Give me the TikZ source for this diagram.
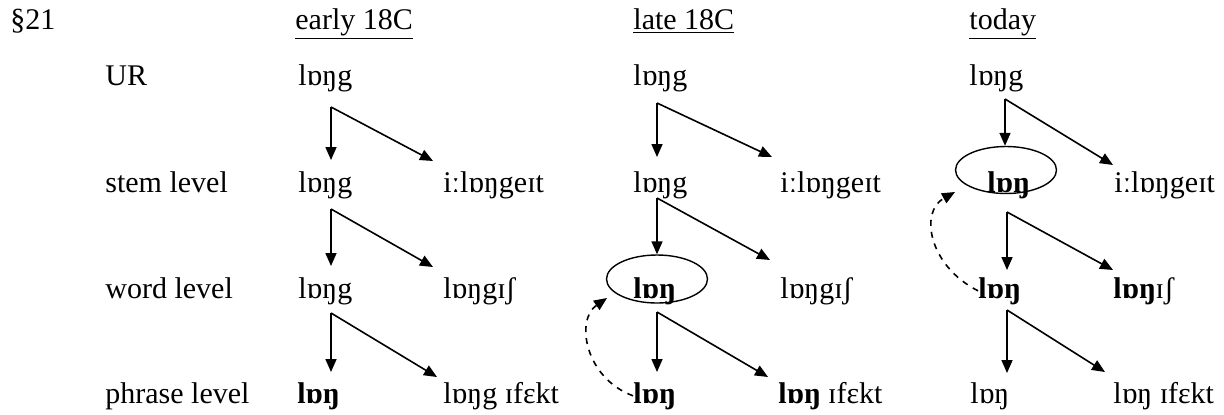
\documentclass[tikz,border=0pt]{standalone}
\usepackage{fontspec}
\setmainfont{Liberation Serif}
\usetikzlibrary{arrows.meta,shapes.geometric}

\begin{document}
\begin{tikzpicture}[x=0.5pt,y=-0.5pt,
  every node/.style={font=\fontsize{15pt}{18pt}\selectfont},
  txt/.style={anchor=base west,inner sep=0pt},
  arr/.style={-{Triangle[length=6.5pt,width=5.5pt]},line width=0.8pt},
  back/.style={arr,dashed},
  oval/.style={draw,ellipse,line width=0.7pt,inner sep=0pt}]
\useasboundingbox (0,0) rectangle (1224,414); % fix the page

% headings and level names
\node[txt] (sec)   at (10,29)   {§21};
\node[txt] (hd1)   at (295,29)  {\underline{early 18C}};
\node[txt] (hd2)   at (633,29)  {\underline{late 18C}};
\node[txt] (hd3)   at (969,29)  {\underline{today}};
\node[txt] (ur)    at (105,85)  {UR};
\node[txt] (stem)  at (105,192) {stem level};
\node[txt] (word)  at (105,298) {word level};
\node[txt] (phr)   at (105,403) {phrase level};

% early 18C
\node[txt] (u1)  at (298,85)  {lɒŋg};
\node[txt] (s1)  at (298,192) {lɒŋg};
\node[txt] (s1r) at (443,192) {iːlɒŋgeɪt};
\node[txt] (w1)  at (298,298) {lɒŋg};
\node[txt] (w1r) at (443,298) {lɒŋgɪʃ};
\node[txt] (p1)  at (297,403) {\textbf{lɒŋ}};
\node[txt] (p1r) at (443,403) {lɒŋg ɪfɛkt};

% late 18C
\node[txt] (u2)  at (633,85)  {lɒŋg};
\node[txt] (s2)  at (633,192) {lɒŋg};
\node[txt] (s2r) at (780,192) {iːlɒŋgeɪt};
\node[txt] (w2)  at (633,298) {\textbf{lɒŋ}};
\node[oval,minimum width=50.5pt,minimum height=24pt] (oval2) at (657,279) {};
\node[txt] (w2r) at (780,298) {lɒŋgɪʃ};
\node[txt] (p2)  at (633,403) {\textbf{lɒŋ}};
\node[txt] (p2r) at (778,403) {\textbf{lɒŋ} ɪfɛkt};

% today
\node[txt] (u3)  at (969,85)  {lɒŋg};
\node[txt] (s3)  at (987,192) {\textbf{lɒŋ}};
\node[oval,minimum width=50.5pt,minimum height=23.5pt] (oval3) at (1006,170) {};
\node[txt] (s3r) at (1114,192) {iːlɒŋgeɪt};
\node[txt] (w3)  at (978,298) {\textbf{lɒŋ}};
\node[txt] (w3r) at (1113,298) {\textbf{lɒŋ}ɪʃ};
\node[txt] (p3)  at (970,403) {lɒŋ};
\node[txt] (p3r) at (1113,403) {lɒŋ ɪfɛkt};

% forks and arrow tips
\coordinate (f11) at (331,107); \coordinate (f12) at (331,209); \coordinate (f13) at (331,313);
\coordinate (f21) at (657,103); \coordinate (f22) at (657,198); \coordinate (f23) at (657,312);
\coordinate (f31) at (1005,99); \coordinate (f32) at (1007,212); \coordinate (f33) at (1007,310);
\coordinate (b2) at (607,298);
\coordinate (b3) at (955,192);

\draw[arr] (f11) -- (331,160);  \draw[arr] (f11) -- (433,161);
\draw[arr] (f12) -- (331,266);  \draw[arr] (f12) -- (433,267);
\draw[arr] (f13) -- (331,372);  \draw[arr] (f13) -- (437,377);

\draw[arr] (f21) -- (657,157);  \draw[arr] (f21) -- (772,157);
\draw[arr] (f22) -- (oval2.north); \draw[arr] (f22) -- (770,260);
\draw[arr] (f23) -- (657,372);  \draw[arr] (f23) -- (768,377);

\draw[arr] (f31) -- (oval3.north -| f31); \draw[arr] (f31) -- (1113,165);
\draw[arr] (f32) -- (1007,270); \draw[arr] (f32) -- (1113,270);
\draw[arr] (f33) -- (1007,373); \draw[arr] (f33) -- (1105,372);

% back-formation, dashed
\draw[back] (p2.west) .. controls (585,378) and (575,320) .. (b2);
\draw[back] (w3.west) .. controls (929,266) and (919,212) .. (b3);
\end{tikzpicture}
\end{document}
